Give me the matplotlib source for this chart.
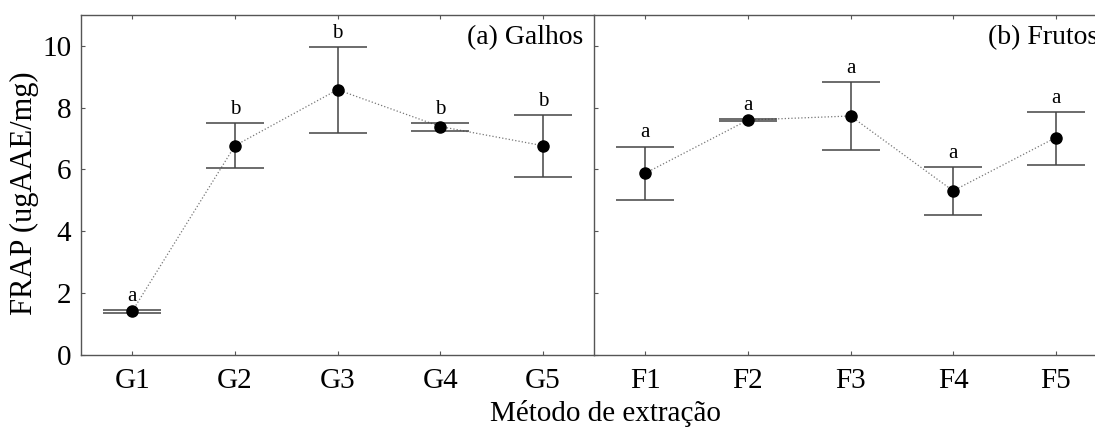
import matplotlib
matplotlib.use("Agg")
import matplotlib.pyplot as plt

plt.rcParams['font.family'] = ['Liberation Serif', 'DejaVu Serif']

# Galhos (branches)
g_labels = ["G1", "G2", "G3", "G4", "G5"]
g_mean = [1.42, 6.77, 8.58, 7.39, 6.77]
g_low = [1.36, 6.04, 7.17, 7.25, 5.75]
g_high = [1.46, 7.51, 9.95, 7.50, 7.76]
g_letters = ["a", "b", "b", "b", "b"]

# Frutos (fruits)
f_labels = ["F1", "F2", "F3", "F4", "F5"]
f_mean = [5.88, 7.60, 7.73, 5.31, 7.03]
f_low = [5.00, 7.58, 6.63, 4.53, 6.13]
f_high = [6.74, 7.62, 8.82, 6.09, 7.85]
f_letters = ["a", "a", "a", "a", "a"]

fig = plt.figure(figsize=(10.95, 4.30), dpi=100)
ax1 = fig.add_axes([0.074, 0.1744, 0.4685, 0.791])
ax2 = fig.add_axes([0.5425, 0.1744, 0.4685, 0.791])

spine_col = '#555555'
bar_col = '#444444'


def painel(ax, labels, mean, low, high, letters, titulo, tx, ha):
    x = list(range(1, len(labels) + 1))
    err = [[m - l for m, l in zip(mean, low)], [h - m for m, h in zip(mean, high)]]
    ax.plot(x, mean, linestyle=':', color='#777777', linewidth=0.9, zorder=2)
    ax.errorbar(x, mean, yerr=err, fmt='none', ecolor=bar_col, elinewidth=1.1,
                capsize=29 * 72 / 100, capthick=1.1, zorder=3)
    ax.plot(x, mean, 'o', color='black', markersize=8, zorder=4)
    for xi, hi, let in zip(x, high, letters):
        ax.annotate(let, (xi, hi), xytext=(0, 3), textcoords='offset points',
                    ha='center', va='bottom', fontsize=15)
    ax.set_xlim(0.5, 5.5)
    ax.set_ylim(0, 11)
    ax.set_xticks(x)
    ax.set_xticklabels(labels)
    ax.set_yticks([0, 2, 4, 6, 8, 10])
    ax.tick_params(direction='in', top=True, length=3, width=0.8,
                   color=spine_col, labelsize=21)
    ax.tick_params(axis='x', pad=9)
    ax.tick_params(axis='y', pad=7)
    for s in ax.spines.values():
        s.set_color(spine_col)
        s.set_linewidth(1.0)
    ax.text(tx, 0.932, titulo, transform=ax.transAxes, ha=ha, va='center',
            fontsize=20)


painel(ax1, g_labels, g_mean, g_low, g_high, g_letters, "(a) Galhos", 0.979, 'right')
painel(ax2, f_labels, f_mean, f_low, f_high, f_letters, "(b) Frutos", 0.768, 'left')
ax1.spines['right'].set_visible(False)
ax2.tick_params(labelleft=False)

fig.text(24 / 1095, 0.55, "FRAP (ugAAE/mg)", rotation=90, ha='center',
         va='center', fontsize=22)
fig.text(605 / 1095, 0.038, "Método de extração", ha='center', va='center',
         fontsize=21)

fig.savefig("out.png", dpi=100)
